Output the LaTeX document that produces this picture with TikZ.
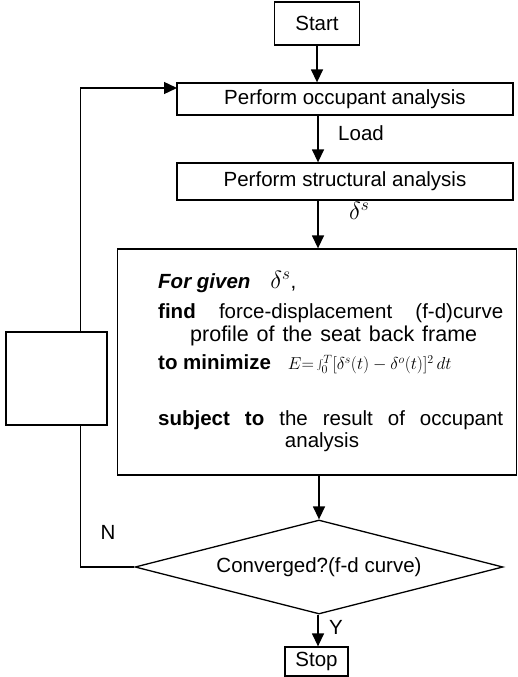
\documentclass[tikz,border=0pt]{standalone}
\usepackage{fontspec}
\setmainfont{Liberation Sans}
\usetikzlibrary{arrows.meta,shapes.geometric}
\newcommand\myfs{\fontsize{20.5}{24}\selectfont}
\begin{document}
\begin{tikzpicture}[x=1pt,y=-1pt,
  box/.style={draw,line width=1.3pt,inner sep=0pt,font=\myfs,fill=white},
  arr/.style={line width=1.4pt,-{Triangle[length=13pt,width=12pt]}},
  lbl/.style={font=\myfs,inner sep=0pt},
  txt/.style={font=\myfs,inner sep=0pt,anchor=west}]
\useasboundingbox (0,0) rectangle (518,677);
\coordinate (axis) at (318,0);
% boxes
\node[box,minimum width=85pt,minimum height=43pt] (start) at (317,23.5) {Start};
\node[box,minimum width=336pt,minimum height=32pt] (occ) at (345,99) {Perform occupant analysis};
\node[box,minimum width=336pt,minimum height=37pt] (str) at (345,181.5) {Perform structural analysis};
\node[box,minimum width=399pt,minimum height=226pt] (big) at (317,362) {};
\node[box,diamond,minimum width=368pt,minimum height=94pt,aspect=3.9] (dia) at (319,567) {Converged?(f-d curve)};
\node[box,minimum width=63pt,minimum height=29pt] (stop) at (316.5,661.5) {Stop};
\coordinate (occin) at (177,88);
% connectors
\draw[arr] (start.south) -- (start.south |- occ.north);
\draw[arr] (occ.south -| axis) -- (str.north -| axis);
\draw[arr] (str.south -| axis) -- (big.north -| axis);
\draw[arr] (big.south -| dia.north) -- (dia.north);
\draw[arr] (dia.south -| axis) -- (stop.north -| axis);
\draw[arr] (dia.west) -- ++(-54,0) |- (occin);
\node[box,minimum width=101pt,minimum height=93pt] (side) at (56.5,378.5) {};
% labels
\node[lbl,anchor=west] (load) at (338,133) {Load};
\node[lbl,anchor=west] (ds) at (349,211) {\fontsize{26}{30}\selectfont$\delta^s$};
\node[lbl] (n) at (108,532) {N};
\node[lbl] (y) at (336,627) {Y};
% big box text
\node[txt] (l1) at (158,282) {\textbf{\textit{For given}}\hspace{20pt}{\fontsize{24}{28}\selectfont$\delta^s$},};
\node[txt] (l2) at (158,313) {\makebox[345pt][s]{\textbf{find} force-displacement (f-d)curve}};
\node[txt] (l3) at (190,336) {\fontsize{21.5}{25}\selectfont\makebox[287pt][s]{profile of the seat back frame}};
\node[txt] (l4) at (158,364) {\textbf{to minimize}\hspace{17pt}{\fontsize{16.5}{19}\selectfont$E{=}\int_0^T[\delta^s(t)-\delta^o(t)]^2\,dt$}};
\node[txt] (l5) at (158,420) {\makebox[345pt][s]{\textbf{subject to} the result of occupant}};
\node[lbl] (l6) at (322,442) {analysis};
\end{tikzpicture}
\end{document}
